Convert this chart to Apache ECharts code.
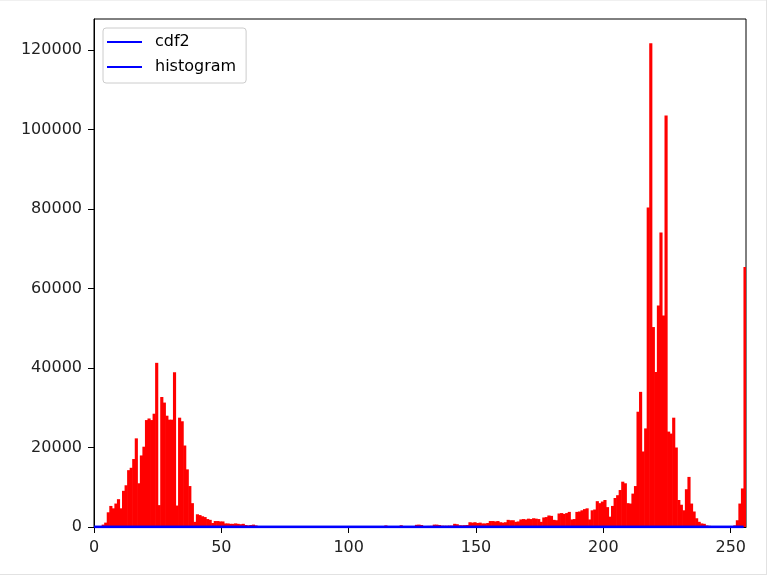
<!DOCTYPE html>
<html>
<head>
<meta charset="utf-8">
<script src="https://cdn.jsdelivr.net/npm/echarts@6/dist/echarts.min.js"></script>
<style>
  html, body { margin: 0; padding: 0; background: #fff; }
  #chart { position: absolute; left: 0; top: 0; width: 767px; height: 575px; }
  .edge { position: absolute; background: #e2e2e2; pointer-events: none; }
</style>
</head>
<body>
<div id="chart"></div>
<div class="edge" style="left:0;top:0;width:767px;height:1px;background:#f0f0f0"></div>
<div class="edge" style="left:766px;top:0;width:1px;height:575px"></div>
<div class="edge" style="left:0;top:574px;width:767px;height:1px"></div>
<script>
// Histogram counts, one per intensity bin 0..255
const histCounts = [
  0, 0, 200, 600, 1100, 3700, 5300, 4700, 5900, 7000,
  4700, 9100, 10500, 14300, 14900, 17100, 22300, 11000, 18000, 20200,
  26900, 27300, 26900, 28500, 41300, 5500, 32700, 31300, 28000, 27000,
  27000, 38900, 5400, 27500, 26600, 20500, 14500, 10300, 6000, 1300,
  3200, 3000, 2700, 2500, 2000, 1800, 1000, 1500, 1500, 1400,
  1400, 900, 900, 800, 800, 900, 800, 700, 800, 500,
  400, 500, 600, 400, 200, 150, 120, 100, 90, 80,
  70, 60, 60, 50, 50, 60, 50, 40, 50, 60,
  50, 40, 50, 60, 50, 60, 70, 60, 50, 60,
  70, 60, 80, 70, 60, 80, 90, 70, 80, 90,
  100, 90, 110, 100, 120, 110, 100, 130, 120, 140,
  130, 150, 160, 150, 400, 150, 140, 160, 150, 200,
  450, 200, 180, 200, 220, 250, 550, 600, 500, 250,
  260, 280, 300, 600, 600, 500, 350, 320, 330, 350,
  360, 800, 700, 450, 420, 460, 500, 1200, 1100, 1200,
  1000, 1100, 900, 900, 1000, 1500, 1500, 1400, 1500, 1200,
  1100, 1200, 1800, 1700, 1700, 1300, 1400, 1900, 2000, 1900,
  2100, 2000, 2200, 2100, 2000, 1300, 2400, 2500, 2900, 2800,
  1800, 1700, 3400, 3500, 3300, 3500, 3800, 1900, 2000, 3800,
  3900, 4200, 4500, 4700, 1900, 4200, 4400, 6500, 6000, 6400,
  6800, 5000, 2600, 5300, 7300, 8000, 9300, 11400, 11000, 6000,
  5900, 8400, 10300, 29000, 34000, 19000, 24800, 80400, 121700, 50300,
  39000, 55700, 74100, 53200, 103500, 24000, 23500, 27500, 20000, 6800,
  5600, 4200, 9500, 12600, 5900, 3900, 2200, 1300, 900, 800,
  400, 300, 250, 200, 200, 200, 150, 150, 200, 200,
  250, 400, 1700, 5900, 9700, 65400
];
const xTicks = [0, 50, 100, 150, 200, 250];
const yTicks = [0, 20000, 40000, 60000, 80000, 100000, 120000];
const seriesNames = ['cdf2', 'histogram'];
const xMax = 256;
const yMax = 127800;

// normalised cumulative distribution (drawn as the blue line)
const cdf = [];
let run = 0;
histCounts.forEach(v => { run += v; cdf.push(run); });
const cdfNorm = cdf.map((v, i) => [i, v / run]);
const barData = histCounts.map((v, i) => [i, v]);

const FONT = 'DejaVu Sans';
const chart = echarts.init(document.getElementById('chart'), null, { renderer: 'canvas' });
chart.setOption({
  animation: false,
  backgroundColor: '#ffffff',
  textStyle: { fontFamily: FONT },
  grid: { left: 94, right: 21, top: 19, bottom: 48, show: true, borderColor: '#000', borderWidth: 1, backgroundColor: 'transparent' },
  legend: {
    orient: 'vertical', left: 103, top: 28,
    padding: [6, 10, 8, 4], itemGap: 9,
    itemWidth: 35, itemHeight: 2,
    backgroundColor: 'rgba(255,255,255,0.8)', borderColor: '#cccccc', borderWidth: 1, borderRadius: 3,
    textStyle: { fontFamily: FONT, fontSize: 16, color: '#000', padding: [0, 0, 0, 8] },
    data: seriesNames.map(n => ({ name: n, icon: 'rect', itemStyle: { color: '#0000ff' } }))
  },
  xAxis: {
    type: 'value', min: xTicks[0], max: xMax, interval: xTicks[1] - xTicks[0],
    axisLine: { show: true, onZero: false, lineStyle: { color: '#000', width: 1 } },
    axisTick: { show: true, inside: false, length: 6, lineStyle: { color: '#000' } },
    axisLabel: { show: true, margin: 13, fontFamily: FONT, fontSize: 16, color: '#222', showMaxLabel: false,
      formatter: v => (xTicks.indexOf(v) >= 0 ? String(v) : '') },
    splitLine: { show: false }
  },
  yAxis: {
    type: 'value', min: yTicks[0], max: yMax, interval: yTicks[1] - yTicks[0],
    axisLine: { show: true, lineStyle: { color: '#000', width: 1 } },
    axisTick: { show: true, inside: false, length: 6, lineStyle: { color: '#000' } },
    axisLabel: { show: true, margin: 12, fontFamily: FONT, fontSize: 16, color: '#222', showMaxLabel: false,
      formatter: v => (yTicks.indexOf(v) >= 0 ? String(v) : '') },
    splitLine: { show: false }
  },
  series: [
    {
      type: 'custom', name: 'bars', z: 1,
      renderItem: function (params, api) {
        const x = api.value(0), v = api.value(1);
        const p0 = api.coord([x, 0]);
        const p1 = api.coord([x + 1, v]);
        const extra = x + 1 < xMax ? 0.6 : 0;
        return {
          type: 'rect',
          shape: { x: p0[0], y: p1[1], width: p1[0] - p0[0] + extra, height: p0[1] - p1[1] },
          style: { fill: '#ff0000' }
        };
      },
      encode: { x: 0, y: 1 },
      data: barData
    },
    {
      type: 'line', name: seriesNames[0], z: 3, showSymbol: false, symbol: 'none',
      lineStyle: { color: '#0000ff', width: 2.5 }, itemStyle: { color: '#0000ff' },
      data: cdfNorm
    },
    {
      type: 'line', name: seriesNames[1], z: 3, showSymbol: false, symbol: 'none',
      lineStyle: { color: '#0000ff', width: 2.5 }, itemStyle: { color: '#0000ff' },
      data: cdfNorm
    }
  ]
});
</script>
</body>
</html>
